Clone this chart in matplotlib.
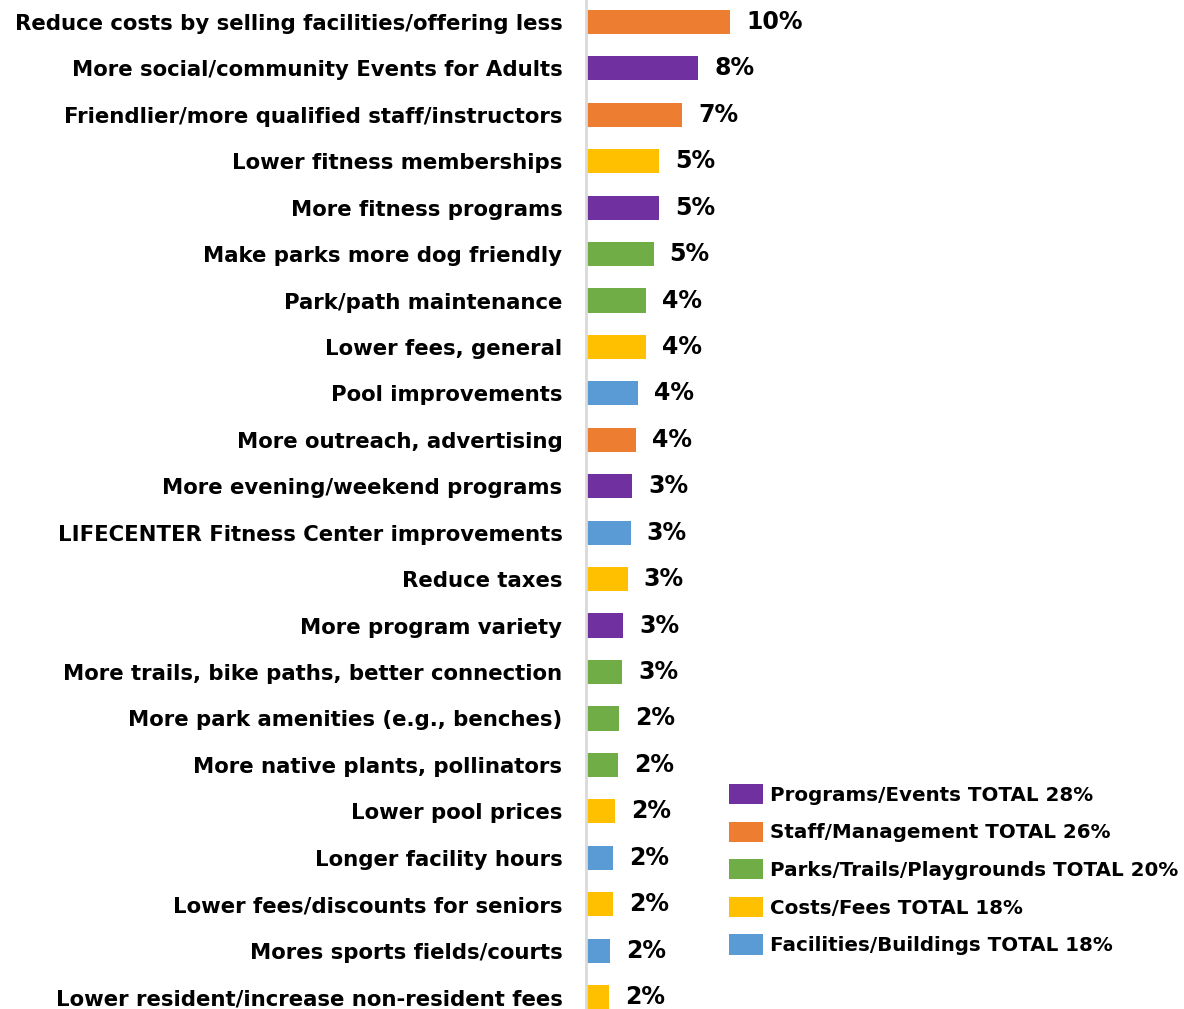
import matplotlib
matplotlib.use("Agg")
import matplotlib.pyplot as plt
from matplotlib.patches import Patch

plt.rcParams['font.family'] = ['DejaVu Sans']

# categories, top to bottom
items = [
    "Reduce costs by selling facilities/offering less",
    "More social/community Events for Adults",
    "Friendlier/more qualified staff/instructors",
    "Lower fitness memberships",
    "More fitness programs",
    "Make parks more dog friendly",
    "Park/path maintenance",
    "Lower fees, general",
    "Pool improvements",
    "More outreach, advertising",
    "More evening/weekend programs",
    "LIFECENTER Fitness Center improvements",
    "Reduce taxes",
    "More program variety",
    "More trails, bike paths, better connection",
    "More park amenities (e.g., benches)",
    "More native plants, pollinators",
    "Lower pool prices",
    "Longer facility hours",
    "Lower fees/discounts for seniors",
    "Mores sports fields/courts",
    "Lower resident/increase non-resident fees",
]
# share of responses (%)
values = [10.0, 7.8, 6.7, 5.1, 5.1, 4.7, 4.2, 4.2, 3.6, 3.5, 3.2, 3.1,
          2.9, 2.6, 2.5, 2.3, 2.2, 2.0, 1.9, 1.9, 1.7, 1.6]
pct_labels = ["10%", "8%", "7%", "5%", "5%", "5%", "4%", "4%", "4%", "4%", "3%", "3%",
              "3%", "3%", "3%", "2%", "2%", "2%", "2%", "2%", "2%", "2%"]
groups = ["staff", "programs", "staff", "costs", "programs", "parks", "parks", "costs",
          "facilities", "staff", "programs", "facilities", "costs", "programs", "parks",
          "parks", "parks", "costs", "facilities", "costs", "facilities", "costs"]

group_colors = {
    "programs": "#7030A0",
    "staff": "#ED7D31",
    "parks": "#70AD47",
    "costs": "#FFC000",
    "facilities": "#5B9BD5",
}
legend_groups = ["programs", "staff", "parks", "costs", "facilities"]
legend_labels = ["Programs/Events TOTAL 28%", "Staff/Management TOTAL 26%",
                 "Parks/Trails/Playgrounds TOTAL 20%", "Costs/Fees TOTAL 18%",
                 "Facilities/Buildings TOTAL 18%"]

W, H = 1184, 1009
fig = plt.figure(figsize=(W / 100, H / 100), dpi=100)
ax = fig.add_axes([586 / W, 0, 1 - 586 / W, 1])

y = range(len(items))
ax.barh(y, values, height=0.52, color=[group_colors[g] for g in groups])

for i, (v, t) in enumerate(zip(values, pct_labels)):
    ax.annotate(t, (v, i), xytext=(16, 0), textcoords="offset pixels",
                va="center", ha="left", fontsize=17, fontweight="bold")

ax.set_xlim(0, 598 / 14.4)
ax.set_ylim(21 + 12 / 46.43, -22 / 46.43)
ax.set_yticks(list(y))
ax.set_yticklabels(items, fontsize=15.3, fontweight="bold")
ax.tick_params(axis="y", length=0, pad=17)
ax.set_xticks([])
for s in ["top", "right", "bottom"]:
    ax.spines[s].set_visible(False)
ax.spines["left"].set_color("#D9D9D9")
ax.spines["left"].set_linewidth(2)

handles = [Patch(facecolor=group_colors[g], edgecolor="none") for g in legend_groups]
fig.legend(handles, legend_labels, loc="upper left",
           bbox_to_anchor=(729 / W, 1 - 784 / H), frameon=False,
           prop={"size": 14.3, "weight": "bold"}, borderpad=0, borderaxespad=0,
           handlelength=1.71, handleheight=1.2, handletextpad=0.35, labelspacing=0.84)

fig.savefig("out.png", dpi=100)
